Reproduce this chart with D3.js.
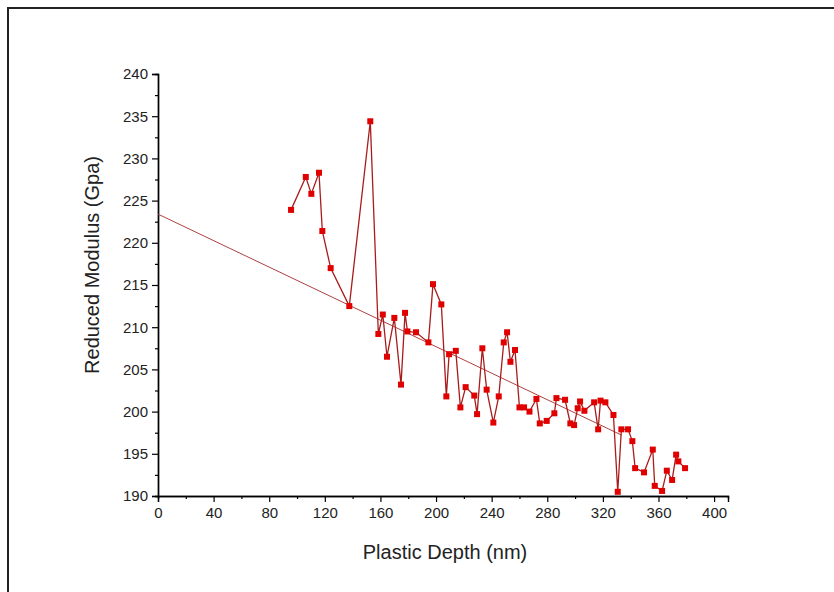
<!DOCTYPE html>
<html>
<head>
<meta charset="utf-8">
<script src="https://cdn.jsdelivr.net/npm/d3@7"></script>
<style>
  html, body { margin: 0; padding: 0; background: #fff; }
  svg { display: block; font-family: "Liberation Sans", Arial, sans-serif; }
</style>
</head>
<body>
<svg id="chart" width="834" height="592"></svg>
<script>
// plastic depth (nm)
const depth = [
    95.7, 106.3, 110.3, 115.8, 118.2, 124.2, 137.6, 152.7, 158.5, 161.7,
    164.7, 170.0, 174.8, 177.7, 179.4, 185.6, 194.5, 197.8, 203.8, 207.4,
    209.4, 214.2, 217.5, 221.3, 227.5, 229.5, 233.3, 236.4, 241.2, 245.1,
    248.7, 251.1, 253.5, 256.8, 260.0, 263.3, 267.2, 272.2, 274.6, 279.6,
    285.1, 286.6, 292.8, 296.6, 299.3, 301.9, 303.6, 306.7, 313.7, 316.6,
    318.3, 321.8, 327.6, 330.7, 333.3, 338.1, 341.2, 343.2, 349.6, 355.9,
    357.3, 362.6, 366.0, 369.8, 372.7, 374.3, 379.1
];
// reduced modulus (GPa)
const modulus = [
    223.9, 227.8, 225.8, 228.3, 221.4, 217.0, 212.5, 234.4, 209.2, 211.5,
    206.5, 211.1, 203.2, 211.7, 209.5, 209.4, 208.2, 215.1, 212.7, 201.8,
    206.8, 207.2, 200.5, 202.9, 201.9, 199.7, 207.5, 202.6, 198.7, 201.8,
    208.2, 209.4, 205.9, 207.3, 200.5, 200.5, 200.0, 201.5, 198.6, 198.9,
    199.8, 201.6, 201.4, 198.6, 198.4, 200.4, 201.2, 200.1, 201.1, 197.9,
    201.3, 201.1, 199.6, 190.5, 197.9, 197.9, 196.5, 193.3, 192.8, 195.5,
    191.2, 190.6, 193.0, 191.9, 194.9, 194.1, 193.3
];
// linear fit end points
const fitX = [0, 333.6];
const fitY = [223.4, 197.2];

const xTicks = [0, 40, 80, 120, 160, 200, 240, 280, 320, 360, 400];
const yTicks = [190, 195, 200, 205, 210, 215, 220, 225, 230, 235, 240];

const svg = d3.select("#chart");

// frame
svg.append("path")
    .attr("d", "M8,592V8H834")
    .attr("fill", "none")
    .attr("stroke", "#222")
    .attr("stroke-width", 2);

const x = d3.scaleLinear().domain([0, 410]).range([158, 728]);
const y = d3.scaleLinear().domain([190, 240]).range([496, 74]);

// x axis
const gx = svg.append("g").attr("transform", "translate(0,496)");
gx.call(d3.axisBottom(x).tickValues(d3.range(20, 410, 40)).tickSize(3).tickFormat(""));
gx.call(g => g.append("g").call(d3.axisBottom(x).tickValues(xTicks).tickSize(6).tickPadding(5)));

// y axis
const gy = svg.append("g").attr("transform", "translate(158,0)");
gy.call(d3.axisLeft(y).tickValues(d3.range(192.5, 240, 5)).tickSize(3).tickFormat(""));
gy.call(g => g.append("g").call(d3.axisLeft(y).tickValues(yTicks).tickSize(6).tickPadding(4)));

svg.selectAll(".domain").attr("stroke", "#000").attr("stroke-width", 1.4);
svg.selectAll(".tick line").attr("stroke", "#000").attr("stroke-width", 1.2);
svg.selectAll(".tick text")
    .attr("fill", "#222")
    .style("font-size", "15px")
    .style("font-family", "'Liberation Sans', Arial, sans-serif");

// fit line
svg.append("line")
    .attr("x1", x(fitX[0])).attr("y1", y(fitY[0]))
    .attr("x2", x(fitX[1])).attr("y2", y(fitY[1]))
    .attr("stroke", "#b04040")
    .attr("stroke-width", 1);

const pts = depth.map((d, i) => [d, modulus[i]]);

svg.append("path")
    .datum(pts)
    .attr("fill", "none")
    .attr("stroke", "#a81c1c")
    .attr("stroke-width", 1.3)
    .attr("d", d3.line().x(d => x(d[0])).y(d => y(d[1])));

svg.selectAll(".pt")
    .data(pts)
    .join("rect")
    .attr("class", "pt")
    .attr("x", d => x(d[0]) - 3)
    .attr("y", d => y(d[1]) - 3)
    .attr("width", 6)
    .attr("height", 6)
    .attr("fill", "#e00000");

// axis titles
svg.append("text")
    .attr("x", 445).attr("y", 559)
    .attr("text-anchor", "middle")
    .attr("fill", "#222")
    .style("font-size", "20px")
    .text("Plastic Depth (nm)");

svg.append("text")
    .attr("transform", "translate(99,265) rotate(-90)")
    .attr("text-anchor", "middle")
    .attr("fill", "#222")
    .style("font-size", "20px")
    .text("Reduced Modulus (Gpa)");
</script>
</body>
</html>
